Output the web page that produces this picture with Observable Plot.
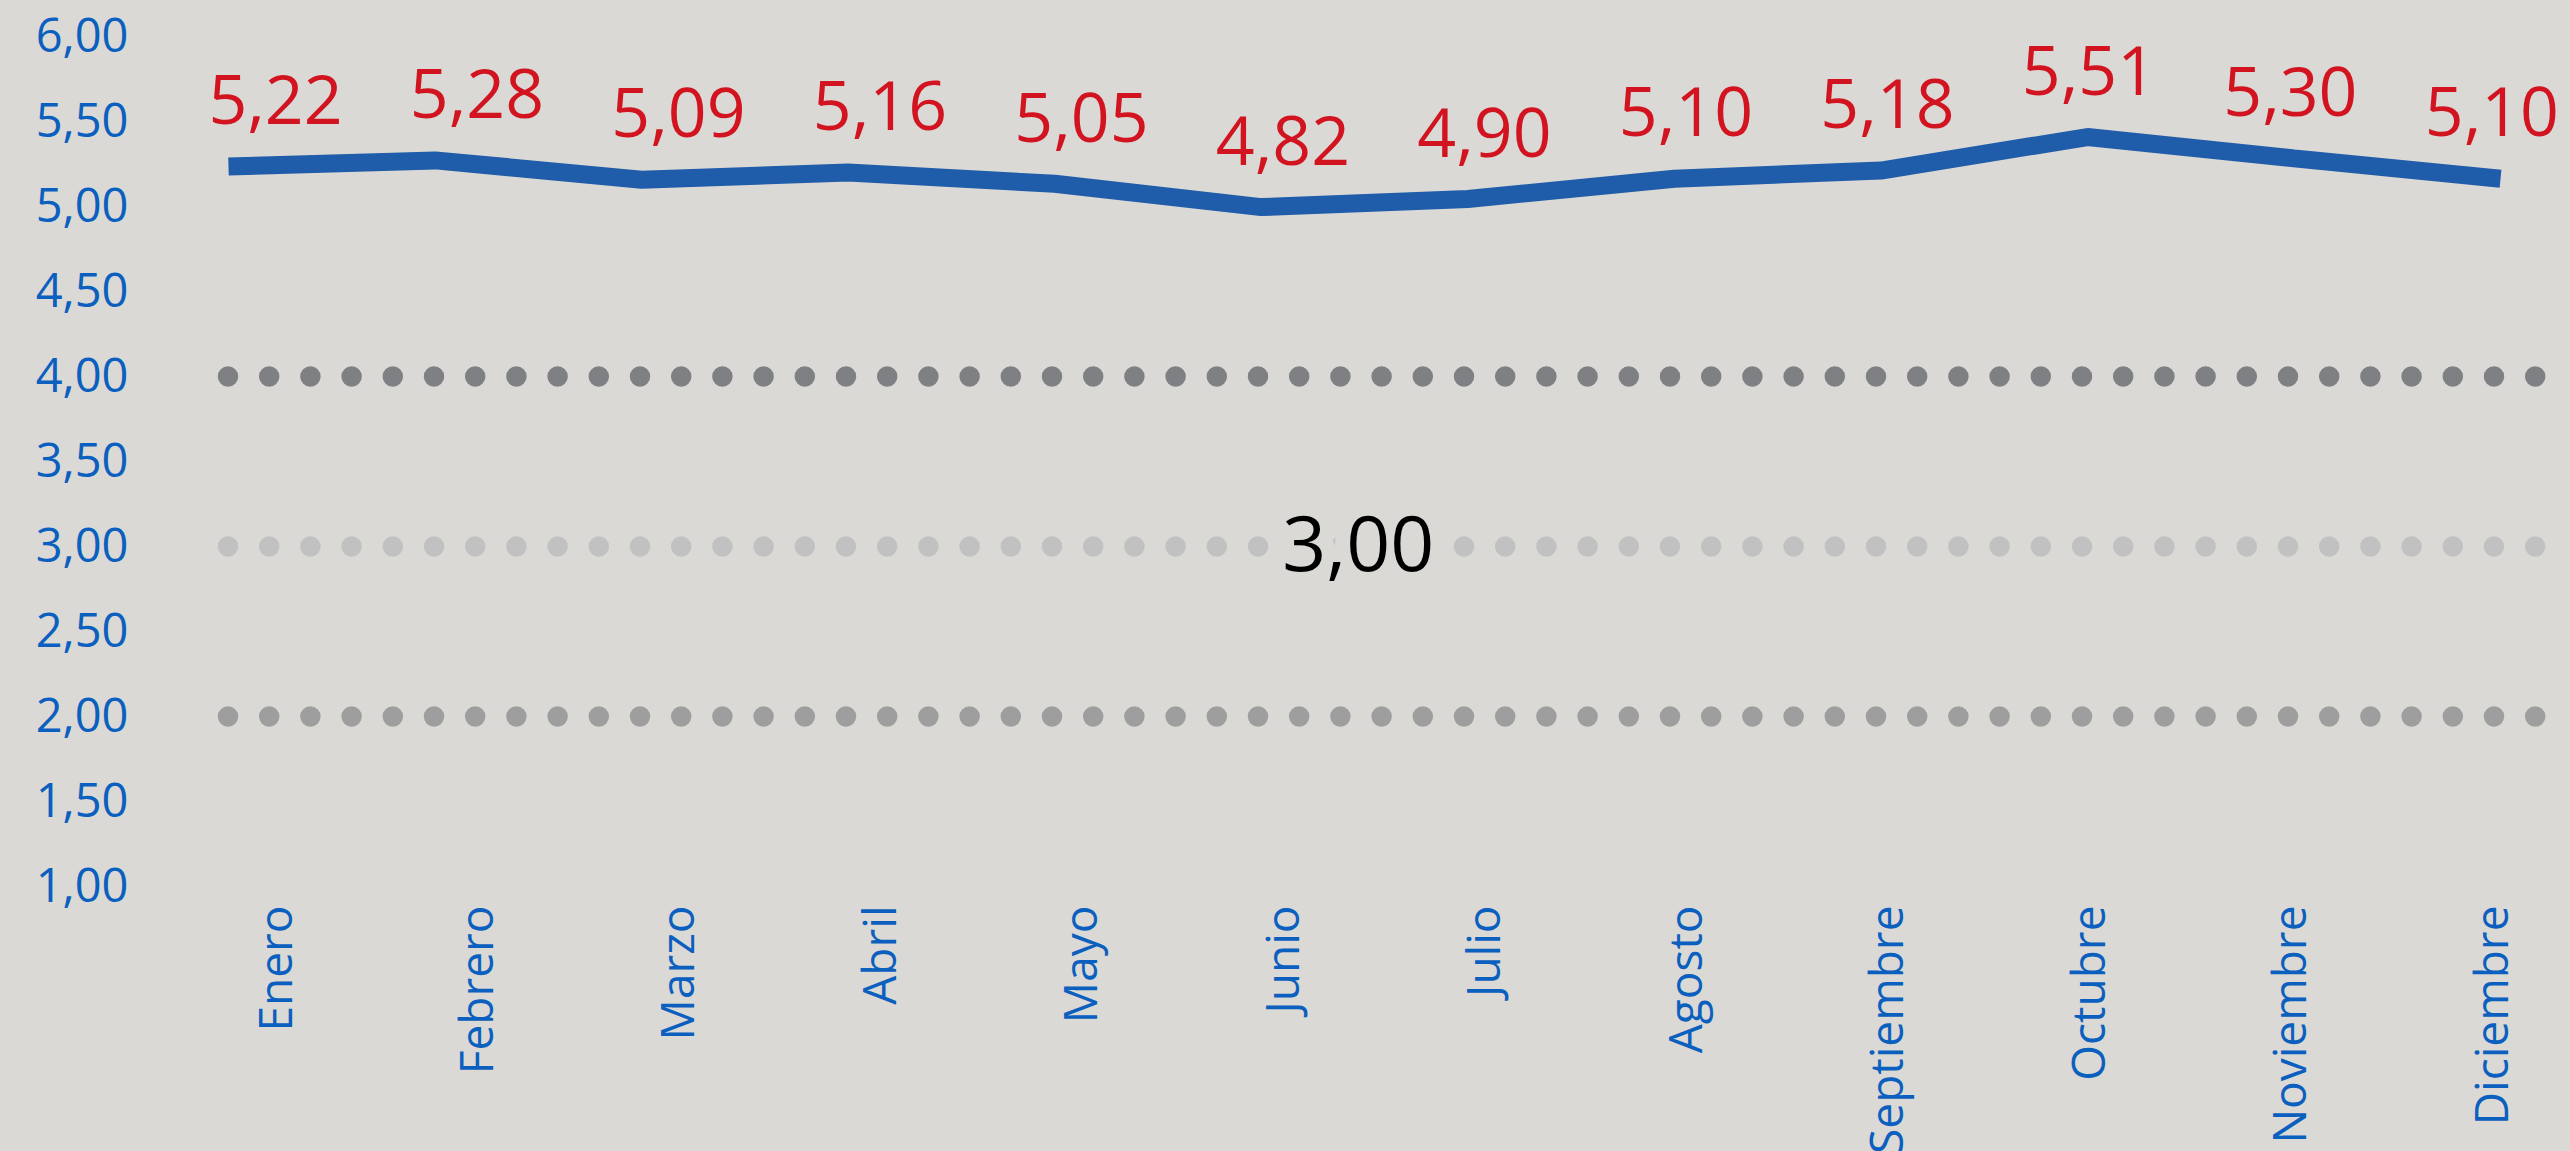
<!DOCTYPE html>
<html>
<head>
<meta charset="utf-8">
<script src="https://cdn.jsdelivr.net/npm/d3@7"></script>
<script src="https://cdn.jsdelivr.net/npm/@observablehq/plot@0.6"></script>
<style>
  html, body { margin: 0; padding: 0; background: #dad9d5; overflow: hidden; }
  #chart svg { display: block; }
</style>
</head>
<body>
<div id="chart"></div>
<script>
// ---- Data ----
const months = ["Enero", "Febrero", "Marzo", "Abril", "Mayo", "Junio", "Julio",
                "Agosto", "Septiembre", "Octubre", "Noviembre", "Diciembre"];
const values = [5.22, 5.28, 5.09, 5.16, 5.05, 4.82, 4.90, 5.10, 5.18, 5.51, 5.30, 5.10];
const yTicks = [1, 1.5, 2, 2.5, 3, 3.5, 4, 4.5, 5, 5.5, 6];
const refLevels = [4, 3, 2];
const refColors = ["#7f8083", "#c1c1c2", "#9e9e9f"];
const refLabelLevel = 3;
// the line series is drawn on a (hidden) secondary value axis
const secondaryDomain = [-1.87, 6.5];

// ---- Styling / layout ----
const bg = "#dad9d5";
const blue = "#0b5fbe";
const lineBlue = "#1f5ca9";
const red = "#d1141f";
const font = "'Open Sans', 'Noto Sans', sans-serif";
const fmt = d => d.toFixed(2).replace(".", ",");

const sec = d3.scaleLinear(secondaryDomain, [1, 6]);
// category (primary) axis positions expressed in line-index units
const catPos = i => 0.2276 + 0.9755 * i;

const chart = Plot.plot({
  width: 2570,
  height: 1151,
  marginLeft: 228,
  marginRight: 33,
  marginTop: 36,
  marginBottom: 265,
  style: { background: bg, color: blue, fontFamily: font, fontSize: "47px" },
  x: { domain: [0, 11.179], axis: null },
  y: { domain: [1, 6], ticks: yTicks, tickFormat: fmt, tickSize: 0, tickPadding: 100, label: null },
  marks: [
    ...refLevels.map((lv, i) => Plot.ruleY([lv], {
      stroke: refColors[i], strokeWidth: 20.5, strokeDasharray: "0 41.2", strokeLinecap: "round"
    })),
    Plot.text([refLabelLevel], {
      x: () => 5.47, y: d => d, text: d => fmt(d),
      fill: "#000", stroke: bg, strokeWidth: 30, strokeLinejoin: "round", paintOrder: "stroke",
      fontSize: 77, fontFamily: font
    }),
    Plot.line(values, {
      x: (d, i) => i, y: d => sec(d),
      stroke: lineBlue, strokeWidth: 18, strokeLinecap: "butt", strokeLinejoin: "miter"
    }),
    Plot.text(values, {
      x: (d, i) => catPos(i), y: d => sec(d), text: d => fmt(d),
      dy: -64, fill: red, fontSize: 68, fontFamily: font
    }),
    Plot.text(months, {
      x: (d, i) => catPos(i), text: d => d, frameAnchor: "bottom",
      rotate: -90, textAnchor: "end", dy: 19, dx: 16,
      fill: blue, fontSize: 46, fontFamily: font
    })
  ]
});
document.getElementById("chart").appendChild(chart);
</script>
</body>
</html>
